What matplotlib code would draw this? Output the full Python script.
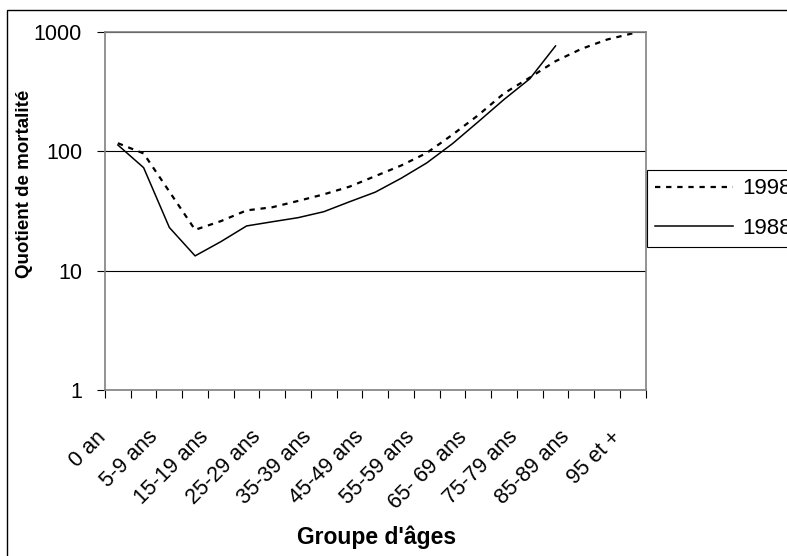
import numpy as np
import matplotlib
matplotlib.use('Agg')
import matplotlib.pyplot as plt
from matplotlib.patches import Rectangle
from matplotlib.ticker import NullLocator, NullFormatter
from matplotlib.transforms import ScaledTranslation

plt.rcParams['font.family'] = ['Liberation Sans', 'DejaVu Sans']

# groupes d'âges (21 classes)
ages = ['0 an', '1-4 ans', '5-9 ans', '10-14 ans', '15-19 ans', '20-24 ans',
        '25-29 ans', '30-34 ans', '35-39 ans', '40-44 ans', '45-49 ans',
        '50-54 ans', '55-59 ans', '60-64 ans', '65- 69 ans', '70-74 ans',
        '75-79 ans', '80-84 ans', '85-89 ans', '90-94 ans', '95 et +']

# quotients de mortalité (pour 1000)
q1998 = [117, 96, 46, 22, 26, 32, 34, 38.4, 43.6, 50.6, 62, 76, 97, 138,
         201, 306, 415, 569, 721, 864, 975]
q1988 = [113, 73, 23, 13.3, 17.5, 23.7, 25.7, 27.8, 31.2, 37.8, 45.5, 59.4,
         80, 116, 177, 272, 405, 764]

y_ticks = [1, 10, 100, 1000]
y_labels = ['1', '10', '100', '1000']

W, H = 787, 556
fig = plt.figure(figsize=(W / 100, H / 100), dpi=100)
ax = fig.add_axes([105 / W, 1 - 390 / H, 540.6 / W, 358 / H])

ax.plot(range(len(q1998)), q1998, color='black', lw=1.6,
        ls=(0, (2.4, 2.6)), label='1998')
ax.plot(range(len(q1988)), q1988, color='black', lw=1.1, label='1988')

ax.set_yscale('log')
ax.set_ylim(1, 1000)
ax.set_xlim(-0.5, len(ages) - 0.5)
ax.set_yticks(y_ticks, y_labels)
ax.yaxis.set_minor_locator(NullLocator())
ax.grid(axis='y', color='black', lw=0.8)

# graduations entre les catégories, libellés un sur deux
ax.set_xticks(np.arange(-0.5, len(ages), 1))
ax.xaxis.set_major_formatter(NullFormatter())
ax.set_xticks(range(0, len(ages), 2), ages[::2], minor=True,
              rotation=45, ha='right', va='baseline', rotation_mode='anchor')
ax.tick_params(axis='x', which='major', length=5.8, width=0.8, color='black')
ax.tick_params(axis='x', which='minor', length=0, pad=34.5, labelsize=15.5)
ax.tick_params(axis='y', length=5.5, width=0.8, pad=11, labelsize=15.5)

# décale les libellés inclinés vers la gauche
shift = ScaledTranslation(-11 / 100, 0, fig.dpi_scale_trans)
for lbl in ax.get_xticklabels(minor=True):
    lbl.set_transform(lbl.get_transform() + shift)

for sp in ax.spines.values():
    sp.set_color('#808080')
    sp.set_linewidth(1.2)

fig.text(25 / W, 1 - 184 / H, 'Quotient de mortalité', rotation=90,
         fontweight='bold', fontsize=13.5, ha='center', va='center')
fig.text(376.7 / W, 1 - 537.5 / H, "Groupe d'âges", fontweight='bold',
         fontsize=16.5, ha='center', va='center')

leg = ax.legend(loc='upper left', bbox_to_anchor=(647 / W, 1 - 170 / H),
                bbox_transform=fig.transFigure, fancybox=False,
                edgecolor='black', framealpha=1, fontsize=16,
                handlelength=3.5, handletextpad=0.4, borderpad=0.38,
                labelspacing=0.83, borderaxespad=0)
leg.get_frame().set_linewidth(0.8)

# cadre du graphique
fig.add_artist(Rectangle((7 / W, -0.1), 1.2, 1 - 10 / H + 0.1,
                         transform=fig.transFigure, fill=False,
                         ec='black', lw=1))

fig.savefig('out.png', dpi=100)
